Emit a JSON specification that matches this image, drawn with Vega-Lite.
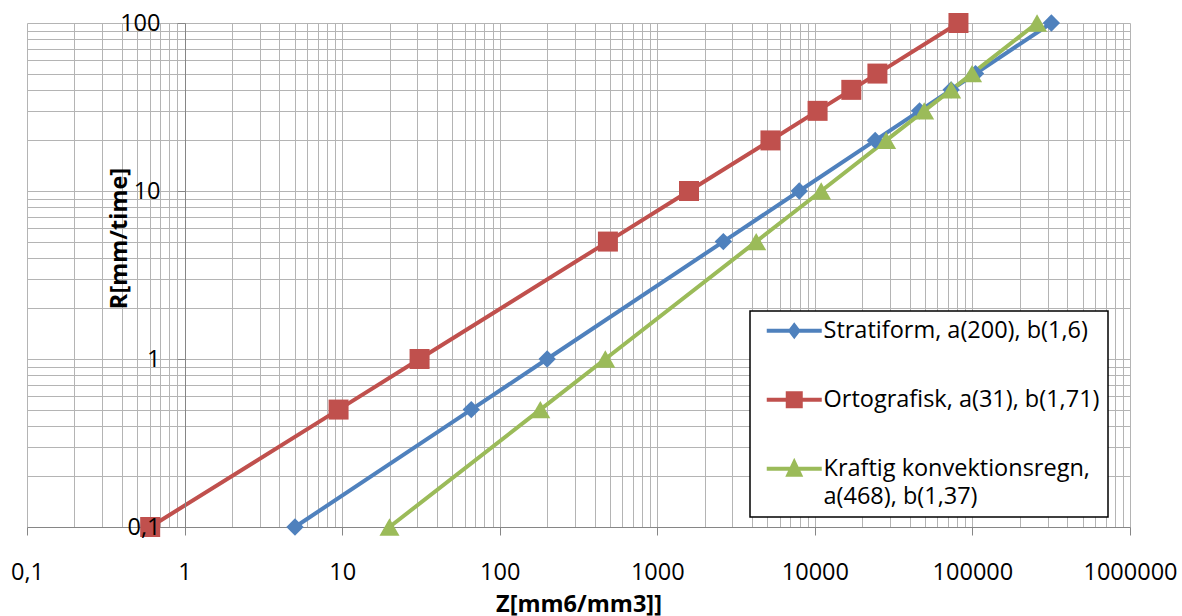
{
  "$schema": "https://vega.github.io/schema/vega-lite/v6.json",
  "width": 1103,
  "height": 504,
  "autosize": {"type": "none"},
  "padding": {"left": 27, "top": 23, "right": 52, "bottom": 89},
  "background": "white",
  "config": {
    "view": {"stroke": null},
    "font": "Open Sans",
    "axis": {
      "gridColor": "#b4b4b4",
      "gridWidth": 1,
      "domainColor": "#868686",
      "tickColor": "#868686",
      "labelFont": "Open Sans",
      "labelFontSize": 23.5,
      "labelColor": "#000000",
      "titleFont": "Open Sans",
      "titleFontSize": 23.5,
      "titleFontWeight": "bold",
      "titleColor": "#000000"
    }
  },
  "data": {
    "values": [
      {"serie": "Stratiform, a(200), b(1,6)", "Z": 5.02, "R": 0.1},
      {"serie": "Stratiform, a(200), b(1,6)", "Z": 66, "R": 0.5},
      {"serie": "Stratiform, a(200), b(1,6)", "Z": 200, "R": 1},
      {"serie": "Stratiform, a(200), b(1,6)", "Z": 2626, "R": 5},
      {"serie": "Stratiform, a(200), b(1,6)", "Z": 7962, "R": 10},
      {"serie": "Stratiform, a(200), b(1,6)", "Z": 24144, "R": 20},
      {"serie": "Stratiform, a(200), b(1,6)", "Z": 46180, "R": 30},
      {"serie": "Stratiform, a(200), b(1,6)", "Z": 73213, "R": 40},
      {"serie": "Stratiform, a(200), b(1,6)", "Z": 104665, "R": 50},
      {"serie": "Stratiform, a(200), b(1,6)", "Z": 316979, "R": 100},
      {"serie": "Ortografisk, a(31), b(1,71)", "Z": 0.605, "R": 0.1},
      {"serie": "Ortografisk, a(31), b(1,71)", "Z": 9.49, "R": 0.5},
      {"serie": "Ortografisk, a(31), b(1,71)", "Z": 31, "R": 1},
      {"serie": "Ortografisk, a(31), b(1,71)", "Z": 486, "R": 5},
      {"serie": "Ortografisk, a(31), b(1,71)", "Z": 1590, "R": 10},
      {"serie": "Ortografisk, a(31), b(1,71)", "Z": 5227, "R": 20},
      {"serie": "Ortografisk, a(31), b(1,71)", "Z": 10407, "R": 30},
      {"serie": "Ortografisk, a(31), b(1,71)", "Z": 17035, "R": 40},
      {"serie": "Ortografisk, a(31), b(1,71)", "Z": 24943, "R": 50},
      {"serie": "Ortografisk, a(31), b(1,71)", "Z": 81537, "R": 100},
      {"serie": "Kraftig konvektionsregn, a(468), b(1,37)", "Z": 19.97, "R": 0.1},
      {"serie": "Kraftig konvektionsregn, a(468), b(1,37)", "Z": 181, "R": 0.5},
      {"serie": "Kraftig konvektionsregn, a(468), b(1,37)", "Z": 468, "R": 1},
      {"serie": "Kraftig konvektionsregn, a(468), b(1,37)", "Z": 4244, "R": 5},
      {"serie": "Kraftig konvektionsregn, a(468), b(1,37)", "Z": 10970, "R": 10},
      {"serie": "Kraftig konvektionsregn, a(468), b(1,37)", "Z": 28351, "R": 20},
      {"serie": "Kraftig konvektionsregn, a(468), b(1,37)", "Z": 49420, "R": 30},
      {"serie": "Kraftig konvektionsregn, a(468), b(1,37)", "Z": 73300, "R": 40},
      {"serie": "Kraftig konvektionsregn, a(468), b(1,37)", "Z": 99500, "R": 50},
      {"serie": "Kraftig konvektionsregn, a(468), b(1,37)", "Z": 257170, "R": 100}
    ]
  },
  "encoding": {
    "x": {
      "field": "Z", "type": "quantitative",
      "scale": {"type": "log", "domain": [0.1, 1000000], "nice": false},
      "axis": {
        "title": "Z[mm6/mm3]]",
        "values": [0.1,0.2,0.3,0.4,0.5,0.6,0.7,0.8,0.9,1,2,3,4,5,6,7,8,9,10,20,30,40,50,60,70,80,90,100,200,300,400,500,600,700,800,900,1000,2000,3000,4000,5000,6000,7000,8000,9000,10000,20000,30000,40000,50000,60000,70000,80000,90000,100000,200000,300000,400000,500000,600000,700000,800000,900000,1000000],
        "labelExpr": "abs(log(datum.value)/LN10 - round(log(datum.value)/LN10)) < 0.000001 ? replace('' + datum.value, '.', ',') : ''",
        "tickOpacity": {"condition": {"test": "abs(log(datum.value)/LN10 - round(log(datum.value)/LN10)) < 0.000001", "value": 1}, "value": 0},
        "tickSize": 8,
        "labelPadding": 25,
        "labelFlush": false,
        "labelOverlap": false,
        "titleBaseline": "alphabetic",
        "titleY": 84,
        "titlePadding": 0
      }
    },
    "color": {
      "field": "serie", "type": "nominal",
      "scale": {
        "domain": ["Stratiform, a(200), b(1,6)", "Ortografisk, a(31), b(1,71)", "Kraftig konvektionsregn, a(468), b(1,37)"],
        "range": ["#4F81BD", "#C0504D", "#9BBB59"]
      },
      "legend": {
        "title": null,
        "orient": "none",
        "legendX": 723,
        "legendY": 288,
        "fillColor": "white",
        "strokeColor": "black",
        "padding": 8,
        "symbolSize": 400,
        "symbolOffset": 7,
        "labelOffset": 35,
        "rowPadding": 44,
        "labelLimit": 500,
        "labelFont": "Open Sans",
        "labelFontSize": 23.5,
        "labelColor": "#000000",
        "labelBaseline": "middle",
        "labelExpr": "datum.label == 'Kraftig konvektionsregn, a(468), b(1,37)' ? ['Kraftig konvektionsregn,', 'a(468), b(1,37)'] : datum.label",
        "encode": {
          "legend": {"update": {"strokeWidth": {"value": 1.5}}},
          "labels": {"update": {"lineHeight": {"value": 28}}},
          "symbols": {
            "update": {
              "fill": {"scale": "color", "field": "value"},
              "stroke": {"value": "transparent"},
              "strokeWidth": {"value": 0},
              "opacity": {"value": 1},
              "size": {"value": 400},
              "shape": {"signal": "datum.value == 'Stratiform, a(200), b(1,6)' ? 'M-1,-0.2H4.5V0.2H-1Z M1.75,-0.85L2.4,0L1.75,0.85L1.1,0Z' : datum.value == 'Ortografisk, a(31), b(1,71)' ? 'M-1,-0.2H4.5V0.2H-1Z M0.9,-0.85H2.6V0.85H0.9Z' : 'M-1,-0.2H4.5V0.2H-1Z M1.75,-1.1L2.65,0.8L0.85,0.8Z'"}
            }
          }
        }
      }
    }
  },
  "resolve": {"axis": {"y": "independent"}},
  "layer": [
    {
      "mark": {"type": "line", "strokeWidth": 4, "clip": false},
      "encoding": {
        "y": {
          "field": "R", "type": "quantitative",
          "scale": {"type": "log", "domain": [0.1, 100], "nice": false},
          "axis": {
            "orient": "left",
            "title": null,
            "values": [0.1,0.2,0.3,0.4,0.5,0.6,0.7,0.8,0.9,1,2,3,4,5,6,7,8,9,10,20,30,40,50,60,70,80,90,100],
            "grid": true,
            "labels": false,
            "ticks": false,
            "domain": false
          }
        }
      }
    },
    {
      "encoding": {
        "y": {
          "field": "R", "type": "quantitative",
          "scale": {"type": "log", "domain": [0.1, 100], "nice": false},
          "axis": {
            "title": "R[mm/time]",
            "orient": "left",
            "offset": -158,
            "grid": false,
            "zindex": 1,
            "values": [0.1,0.2,0.3,0.4,0.5,0.6,0.7,0.8,0.9,1,2,3,4,5,6,7,8,9,10,20,30,40,50,60,70,80,90,100],
            "labelExpr": "abs(log(datum.value)/LN10 - round(log(datum.value)/LN10)) < 0.000001 ? replace('' + datum.value, '.', ',') : ''",
            "tickOpacity": {"condition": {"test": "abs(log(datum.value)/LN10 - round(log(datum.value)/LN10)) < 0.000001", "value": 1}, "value": 0},
            "tickSize": 8,
            "labelPadding": 17,
            "labelFlush": false,
            "labelOverlap": false,
            "titleAngle": -90,
            "titleBaseline": "alphabetic",
            "titleAlign": "center",
            "titleX": -59,
            "titleY": 215
          }
        }
      },
      "layer": [
        {
          "transform": [{"filter": "datum.serie == 'Stratiform, a(200), b(1,6)'"}],
          "mark": {"type": "point", "filled": true, "opacity": 1, "clip": false, "shape": "diamond", "size": 300}
        },
        {
          "transform": [{"filter": "datum.serie == 'Ortografisk, a(31), b(1,71)'"}],
          "mark": {"type": "point", "filled": true, "opacity": 1, "clip": false, "shape": "square", "size": 400}
        },
        {
          "transform": [{"filter": "datum.serie == 'Kraftig konvektionsregn, a(468), b(1,37)'"}],
          "mark": {"type": "point", "filled": true, "opacity": 1, "clip": false, "shape": "triangle-up", "size": 400}
        }
      ]
    }
  ]
}
